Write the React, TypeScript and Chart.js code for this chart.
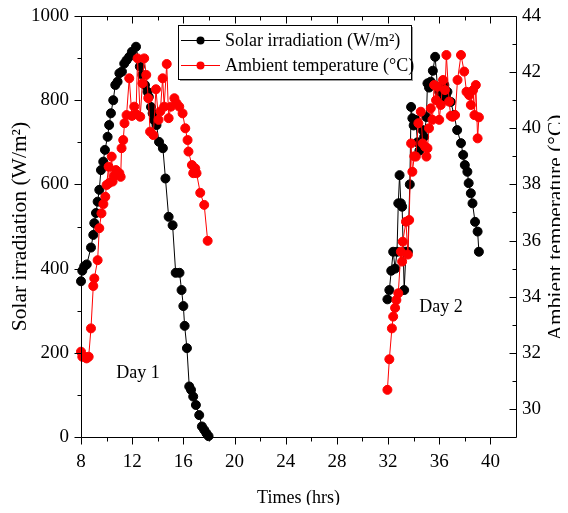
import { useEffect, useRef } from "react";
import { Chart, registerables } from "chart.js";

Chart.register(...registerables);

// ---- Data ----
const solarDay1X = [8.0, 8.1, 8.25, 8.45, 8.78, 8.96, 9.04, 9.17, 9.3, 9.43, 9.56, 9.74, 9.87, 10.08, 10.2, 10.34, 10.52, 10.68, 10.86, 11.0, 11.2, 11.38, 11.56, 11.77, 11.98, 12.3, 12.6, 12.8, 13.0, 13.2, 13.3, 13.47, 13.6, 13.7, 13.9, 14.1, 14.4, 14.6, 14.85, 15.16, 15.4, 15.7, 15.86, 16.0, 16.1, 16.28, 16.46, 16.6, 16.77, 16.98, 17.24, 17.45, 17.63, 17.8, 17.97];
const solarDay1Y = [370, 395, 405, 410, 450, 480, 508, 532, 559, 587, 634, 654, 682, 713, 741, 769, 800, 836, 844, 864, 868, 887, 895, 903, 915, 927, 880, 860, 836, 820, 808, 784, 769, 753, 741, 701, 686, 614, 523, 503, 390, 390, 349, 311, 264, 211, 120, 112, 96, 76, 52, 25, 17, 9, 2];

const solarDay2X = [31.95, 32.1, 32.25, 32.4, 32.55, 32.7, 32.8, 32.9, 33.0, 33.1, 33.26, 33.4, 33.55, 33.7, 33.8, 33.9, 34.0, 34.17, 34.3, 34.45, 34.6, 34.7, 34.82, 35.0, 35.08, 35.2, 35.34, 35.5, 35.68, 35.86, 36.0, 36.12, 36.25, 36.4, 36.52, 36.64, 36.9, 37.16, 37.4, 37.7, 37.87, 38.0, 38.2, 38.3, 38.47, 38.6, 38.8, 39.0, 39.1];
const solarDay2Y = [327, 349, 395, 440, 400, 440, 555, 622, 555, 547, 349, 440, 440, 600, 784, 757, 740, 753, 700, 680, 690, 729, 713, 760, 840, 830, 844, 870, 903, 832, 820, 824, 800, 836, 810, 820, 796, 765, 729, 698, 670, 646, 630, 603, 579, 555, 511, 488, 440];

const tempDay1X = [8.0, 8.1, 8.26, 8.44, 8.6, 8.78, 8.96, 9.04, 9.3, 9.43, 9.6, 9.75, 9.9, 10.0, 10.16, 10.2, 10.4, 10.47, 10.6, 10.73, 11.0, 11.1, 11.17, 11.3, 11.4, 11.56, 11.77, 11.98, 12.16, 12.3, 12.42, 12.63, 12.8, 12.94, 13.1, 13.26, 13.4, 13.65, 13.86, 14.06, 14.2, 14.38, 14.5, 14.7, 14.85, 15.03, 15.3, 15.47, 15.68, 15.94, 16.15, 16.33, 16.4, 16.67, 16.77, 16.93, 17.03, 17.32, 17.63, 17.9];
const tempDay1Y = [32.04, 31.86, 31.86, 31.8, 31.86, 32.87, 34.38, 34.65, 35.3, 36.44, 36.97, 37.3, 37.56, 37.98, 38.63, 38.05, 38.99, 38.1, 38.3, 38.51, 38.4, 38.27, 39.29, 39.58, 40.18, 40.47, 41.78, 40.44, 40.77, 40.5, 42.49, 40.41, 41.6, 42.49, 41.9, 41.07, 39.88, 39.76, 41.39, 40.3, 40.6, 41.78, 40.77, 42.29, 40.36, 40.77, 41.07, 40.89, 40.77, 40.53, 40.0, 39.58, 39.17, 38.69, 38.4, 38.57, 38.4, 37.7, 37.27, 35.99];

const tempDay2X = [31.95, 32.1, 32.3, 32.4, 32.55, 32.65, 32.8, 33.0, 33.1, 33.15, 33.4, 33.55, 33.65, 33.8, 33.9, 34.05, 34.17, 34.37, 34.56, 34.7, 34.9, 35.0, 35.08, 35.2, 35.34, 35.47, 35.6, 35.75, 35.86, 36.0, 36.12, 36.3, 36.45, 36.56, 36.77, 36.9, 37.04, 37.24, 37.43, 37.7, 37.95, 38.13, 38.34, 38.47, 38.65, 38.75, 38.86, 39.0, 39.1];
const tempDay2Y = [30.68, 31.77, 32.87, 33.29, 33.6, 33.88, 34.12, 35.6, 35.25, 35.96, 36.67, 35.5, 36.73, 39.46, 38.45, 39.0, 38.99, 40.18, 40.59, 39.46, 39.34, 38.99, 39.29, 40.0, 40.71, 40.3, 41.54, 41.0, 41.48, 40.3, 40.83, 41.72, 41.36, 42.61, 40.95, 40.44, 40.41, 40.47, 41.72, 42.61, 42.02, 41.3, 41.18, 40.83, 41.36, 40.47, 41.54, 39.64, 40.39];

const xTicks = [8, 12, 16, 20, 24, 28, 32, 36, 40];
const leftTicks = [0, 200, 400, 600, 800, 1000];
const rightTicks = [30, 32, 34, 36, 38, 40, 42, 44];

const seriesLabels = ["Solar irradiation (W/m²)", "Ambient temperature (°C)"];
const xTitle = "Times (hrs)";
const leftTitle = "Solar irradiation (W/m²)";
const rightTitle = "Ambient temperature (°C)";
const dayNotes = ["Day 1", "Day 2"];
const dayNoteX = [10.76, 34.43];
const dayNoteY = [152, 309];

const FONT = "Liberation Serif";

function toPoints(xs: number[], ys: number[]) {
  return xs.map((x, i) => ({ x, y: ys[i] as number | null }));
}

function joinDays(a: { x: number; y: number | null }[], b: { x: number; y: number | null }[]) {
  return [...a, { x: 25, y: null }, ...b];
}

const framePlugin = {
  id: "framePlugin",
  afterDraw(chart: any) {
    const { ctx, chartArea: a, scales } = chart;
    const xs = scales.x;
    const yl = scales.y;
    const yr = scales.y1;
    const L = Math.round(a.left) + 0.5;
    const R = Math.round(a.right) + 0.5;
    const T = Math.round(a.top) + 0.5;
    const B = Math.round(a.bottom) + 0.5;
    ctx.save();
    ctx.strokeStyle = "#000";
    ctx.lineWidth = 1;
    ctx.beginPath();
    ctx.rect(L, T, R - L, B - T);
    ctx.stroke();

    ctx.beginPath();
    // x ticks: bottom outward, top inward
    for (let v = 8; v < 42; v += 2) {
      const major = (v - 8) % 4 === 0;
      const len = major ? 7 : 4;
      const px = Math.round(xs.getPixelForValue(v)) + 0.5;
      ctx.moveTo(px, B);
      ctx.lineTo(px, B + len);
      ctx.moveTo(px, T);
      ctx.lineTo(px, T + len);
    }
    // left y ticks outward
    for (let v = 0; v <= 1000; v += 100) {
      const major = v % 200 === 0;
      const len = major ? 7 : 4;
      const py = Math.round(yl.getPixelForValue(v)) + 0.5;
      ctx.moveTo(L - len, py);
      ctx.lineTo(L, py);
    }
    // right y ticks inward
    for (let v = 30; v <= 44; v += 1) {
      const major = v % 2 === 0;
      const len = major ? 7 : 4;
      const py = Math.round(yr.getPixelForValue(v)) + 0.5;
      ctx.moveTo(R - len, py);
      ctx.lineTo(R, py);
    }
    ctx.stroke();

    // day notes
    ctx.fillStyle = "#000";
    ctx.font = `18px "${FONT}"`;
    ctx.textAlign = "left";
    ctx.textBaseline = "middle";
    dayNotes.forEach((t, i) => {
      ctx.fillText(t, xs.getPixelForValue(dayNoteX[i]), yl.getPixelForValue(dayNoteY[i]));
    });

    // right axis title (reads bottom to top)
    ctx.save();
    ctx.translate(548.5, (a.top + a.bottom) / 2 + 1);
    ctx.rotate(-Math.PI / 2);
    ctx.font = `21.5px "${FONT}"`;
    ctx.textAlign = "center";
    ctx.textBaseline = "middle";
    ctx.fillText(rightTitle, 0, 0);
    ctx.restore();

    // legend box
    const bx = 170.5, by = 17.5, bw = 233, bh = 54;
    ctx.fillStyle = "#9a9a9a";
    ctx.fillRect(bx + 1.5, by + 1.5, bw, bh);
    ctx.fillStyle = "#fff";
    ctx.fillRect(bx, by, bw, bh);
    ctx.strokeStyle = "#000";
    ctx.strokeRect(bx, by, bw, bh);
    const colors = ["#000000", "#ff0000"];
    const rowY = [32, 57];
    seriesLabels.forEach((lab, i) => {
      ctx.strokeStyle = colors[i];
      ctx.fillStyle = colors[i];
      ctx.lineWidth = 1;
      ctx.beginPath();
      ctx.moveTo(173, rowY[i] + 0.5);
      ctx.lineTo(212, rowY[i] + 0.5);
      ctx.stroke();
      ctx.beginPath();
      ctx.arc(192.5, rowY[i] + 0.5, 4, 0, Math.PI * 2);
      ctx.fill();
      ctx.fillStyle = "#000";
      ctx.font = `18px "${FONT}"`;
      ctx.textAlign = "left";
      ctx.textBaseline = "middle";
      ctx.fillText(lab, 217, rowY[i] + 1);
    });
    ctx.restore();
  },
};

export default function App() {
  const ref = useRef<HTMLCanvasElement | null>(null);
  useEffect(() => {
    if (!ref.current) return;
    const tickFont = { family: FONT, size: 19 };
    const plain = (v: any) => String(v);
    const chart = new Chart(ref.current, {
      type: "line",
      data: {
        datasets: [
          {
            label: seriesLabels[1],
            data: joinDays(toPoints(tempDay1X, tempDay1Y), toPoints(tempDay2X, tempDay2Y)),
            yAxisID: "y1",
            borderColor: "#ff0000",
            backgroundColor: "#ff0000",
            pointBackgroundColor: "#ff0000",
            pointBorderColor: "#ff0000",
            borderWidth: 1,
            pointRadius: 4.5,
            pointBorderWidth: 1,
            spanGaps: false,
            clip: false as any,
            order: 0,
          },
          {
            label: seriesLabels[0],
            data: joinDays(toPoints(solarDay1X, solarDay1Y), toPoints(solarDay2X, solarDay2Y)),
            yAxisID: "y",
            borderColor: "#000000",
            backgroundColor: "#000000",
            pointBackgroundColor: "#000000",
            pointBorderColor: "#000000",
            borderWidth: 1,
            pointRadius: 4.5,
            pointBorderWidth: 1,
            spanGaps: false,
            clip: false as any,
            order: 1,
          },
        ],
      },
      options: {
        animation: false,
        responsive: true,
        maintainAspectRatio: false,
        layout: { padding: { top: 8, left: 0, right: 0, bottom: 0 } },
        plugins: { legend: { display: false }, tooltip: { enabled: false } },
        scales: {
          x: {
            type: "linear",
            position: "bottom",
            min: 8,
            max: 42,
            grid: { display: false, drawTicks: false, tickLength: 0 },
            border: { display: false },
            afterBuildTicks: (s: any) => {
              s.ticks = xTicks.map((v) => ({ value: v }));
            },
            afterFit: (s: any) => {
              s.height = 68;
              s.paddingLeft = 0;
              s.paddingRight = 0;
            },
            ticks: { font: tickFont, color: "#000", padding: 14, maxRotation: 0, autoSkip: false, callback: plain },
            title: {
              display: true,
              text: xTitle,
              color: "#000",
              font: { family: FONT, size: 18, lineHeight: 1 },
              padding: { top: 0, bottom: -2.3 },
            },
          },
          y: {
            type: "linear",
            position: "left",
            min: 0,
            max: 1000,
            grid: { display: false, drawTicks: false, tickLength: 0 },
            border: { display: false },
            afterBuildTicks: (s: any) => {
              s.ticks = leftTicks.map((v) => ({ value: v }));
            },
            afterFit: (s: any) => {
              s.width = 73;
              s.paddingTop = 0;
              s.paddingBottom = 0;
            },
            ticks: { font: tickFont, color: "#000", padding: 12, autoSkip: false, callback: plain },
            title: {
              display: true,
              text: leftTitle,
              color: "#000",
              font: { family: FONT, size: 21.5, lineHeight: 1 },
              padding: { top: 1.25, bottom: 0 },
            },
          },
          y1: {
            type: "linear",
            position: "right",
            min: 29,
            max: 44,
            grid: { display: false, drawTicks: false, tickLength: 0 },
            border: { display: false },
            afterBuildTicks: (s: any) => {
              s.ticks = rightTicks.map((v) => ({ value: v }));
            },
            afterFit: (s: any) => {
              s.width = 52;
              s.paddingTop = 0;
              s.paddingBottom = 0;
            },
            ticks: { font: tickFont, color: "#000", padding: 6, autoSkip: false, callback: plain },
          },
        },
      },
      plugins: [framePlugin],
    });
    return () => chart.destroy();
  }, []);

  return (
    <div style={{ width: 560, height: 497, position: "relative" }}>
      <canvas ref={ref} />
    </div>
  );
}
